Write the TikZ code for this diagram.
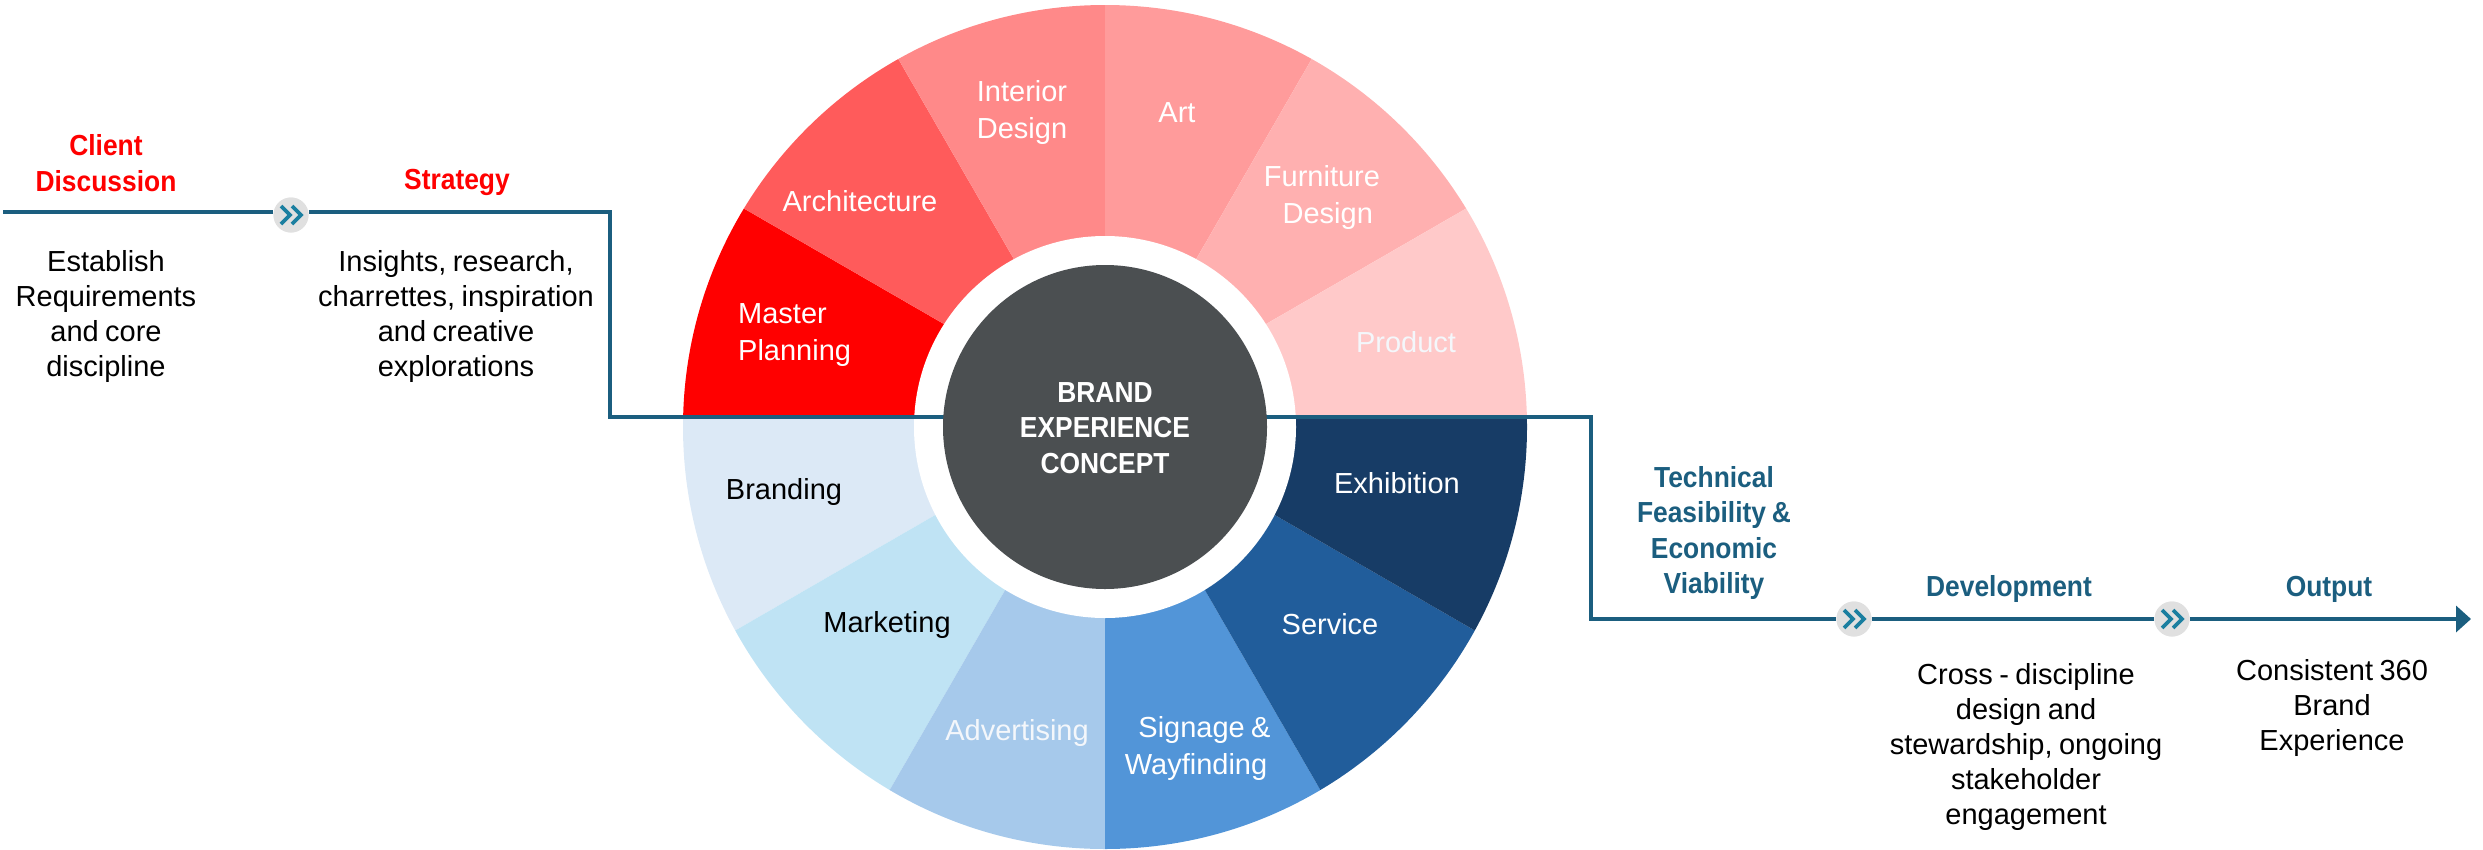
\documentclass[tikz,border=0pt]{standalone}
\usepackage{fontspec}
\setmainfont[WordSpace=0.8,BoldFeatures={FakeStretch=0.91}]{Liberation Sans}
\usetikzlibrary{arrows.meta}
\definecolor{flow}{HTML}{1B5E7F}
\definecolor{chev}{HTML}{1B7FA0}
\definecolor{badgegrey}{HTML}{E0E0E0}
\definecolor{hub}{HTML}{4B4F51}
\definecolor{redtxt}{HTML}{FF0000}
\definecolor{faint}{HTML}{F4F7FB}
\tikzset{x=1pt,y=-1pt,
  flowline/.style={draw=flow,line width=3.5pt,line join=miter},
  body/.style={font=\fontsize{29}{35}\selectfont,align=center,inner sep=0pt,text=black},
  redhead/.style={body,font=\fontsize{29}{35.5}\selectfont\bfseries,text=redtxt},
  bluehead/.style={body,font=\fontsize{29}{35.5}\selectfont\bfseries,text=flow},
  wlabel/.style={body,font=\fontsize{29}{37}\selectfont,text=white},
  badge/.style={circle,fill=badgegrey,minimum size=35pt,inner sep=0pt},
  chevline/.style={draw=chev,line width=3.6pt}
}
\newcommand{\wedgefill}[3]{\fill[#3] (1105,417) -- ({1105+1200*cos(#1)},{417-1200*sin(#1)}) -- ({1105+1200*cos(#2)},{417-1200*sin(#2)}) -- cycle;}
\newcommand{\chevrons}[1]{%
  \draw[chevline] ([xshift=-10pt,yshift=-9pt]#1.center) -- ([xshift=-1pt]#1.center) -- ([xshift=-10pt,yshift=9pt]#1.center);
  \draw[chevline] ([xshift=1pt,yshift=-9pt]#1.center) -- ([xshift=10pt]#1.center) -- ([xshift=1pt,yshift=9pt]#1.center);}
\begin{document}
\begin{tikzpicture}
\useasboundingbox (0,0) rectangle (2483,849);
% wheel
\begin{scope}
\clip (1105,427) circle (422);
\begin{scope}
\clip (600,0) rectangle (1600,417);
\wedgefill{150}{180}{fill=red}
\wedgefill{120}{150}{fill={rgb,255:red,255;green,91;blue,91}}
\wedgefill{90}{120}{fill={rgb,255:red,255;green,137;blue,137}}
\wedgefill{60}{90}{fill={rgb,255:red,255;green,155;blue,155}}
\wedgefill{30}{60}{fill={rgb,255:red,255;green,176;blue,176}}
\wedgefill{0}{30}{fill={rgb,255:red,255;green,201;blue,201}}
\end{scope}
\begin{scope}
\clip (600,417) rectangle (1600,849);
\wedgefill{180}{210}{fill={rgb,255:red,220;green,233;blue,246}}
\wedgefill{210}{240}{fill={rgb,255:red,191;green,227;blue,244}}
\wedgefill{240}{270}{fill={rgb,255:red,166;green,201;blue,235}}
\wedgefill{270}{300}{fill={rgb,255:red,82;green,149;blue,216}}
\wedgefill{300}{330}{fill={rgb,255:red,33;green,93;blue,155}}
\wedgefill{330}{360}{fill={rgb,255:red,23;green,60;blue,102}}
\end{scope}
\end{scope}
\fill[white] (1105,427) circle (191);
% flow anchors
\coordinate (start) at (3,212);
\coordinate (c1) at (610,212);
\coordinate (c2) at (610,417);
\coordinate (hubl) at (950,417);
\coordinate (hubr) at (1260,417);
\coordinate (c3) at (1591,417);
\coordinate (c4) at (1591,619);
\coordinate (tip) at (2471,619);
\node[badge] (b1) at (291,215) {};
\node[badge] (b2) at (1854,619) {};
\node[badge] (b3) at (2172,619) {};
\draw[flowline] (start) -- (b1.west |- start);
\draw[flowline] (b1.east |- start) -- (c1) -- (c2) -- (hubl);
\draw[flowline] (hubr) -- (c3) -- (c4) -- (b2);
\draw[flowline] (b2) -- (b3);
\draw[flowline,-{Triangle[length=15pt,width=26pt]}] (b3) -- (tip);
\node[badge] at (b1) {};
\node[badge] at (b2) {};
\node[badge] at (b3) {};
\chevrons{b1}\chevrons{b2}\chevrons{b3}
\node[circle,fill=hub,minimum size=324pt,inner sep=0pt] (hubc) at (1105,427) {};
\node[wlabel,font=\fontsize{29}{35.5}\selectfont\bfseries] (hubt) at (1105,428) {BRAND\\EXPERIENCE\\CONCEPT};
% left texts
\node[redhead] (h1) at (106,163) {Client\\Discussion};
\node[redhead] (h2) at (457,182) {Strategy};
\node[body] (t1) at (106,316) {Establish\\Requirements\\and core\\discipline};
\node[body] (t2) at (456,316) {Insights, research,\\charrettes, inspiration\\and creative\\explorations};
% right texts
\node[bluehead] (h3) at (1714,533) {Technical\\Feasibility \&\\Economic\\Viability};
\node[bluehead] (h4) at (2009,589) {Development};
\node[bluehead] (h5) at (2329,589) {Output};
\node[body] (t3) at (2026,747) {Cross - discipline\\design and\\stewardship, ongoing\\stakeholder\\engagement};
\node[body] (t4) at (2332,708) {Consistent 360\\Brand\\Experience};
% wheel labels
\node[wlabel] (w1) at (1022,112) {Interior\\Design};
\node[wlabel] (w2) at (1177,113) {Art};
\node[wlabel] (w3) at (1322,197) {Furniture\\\hspace*{11.5pt}Design};
\node[wlabel,text=faint] (w4) at (1406,342) {Product};
\node[wlabel] (w5) at (860,201) {Architecture};
\node[wlabel,align=left,anchor=west] (w6) at (738,335) {Master\\Planning};
\node[body] (w7) at (784,492) {Branding};
\node[body] (w8) at (887,625) {Marketing};
\node[wlabel,text=faint] (w9) at (1017,733) {Advertising};
\node[wlabel] (w10) at (1196,748) {\hspace*{17pt}Signage \&\\Wayfinding};
\node[wlabel] (w11) at (1330,624) {Service};
\node[wlabel] (w12) at (1397,483) {Exhibition};
\end{tikzpicture}
\end{document}
